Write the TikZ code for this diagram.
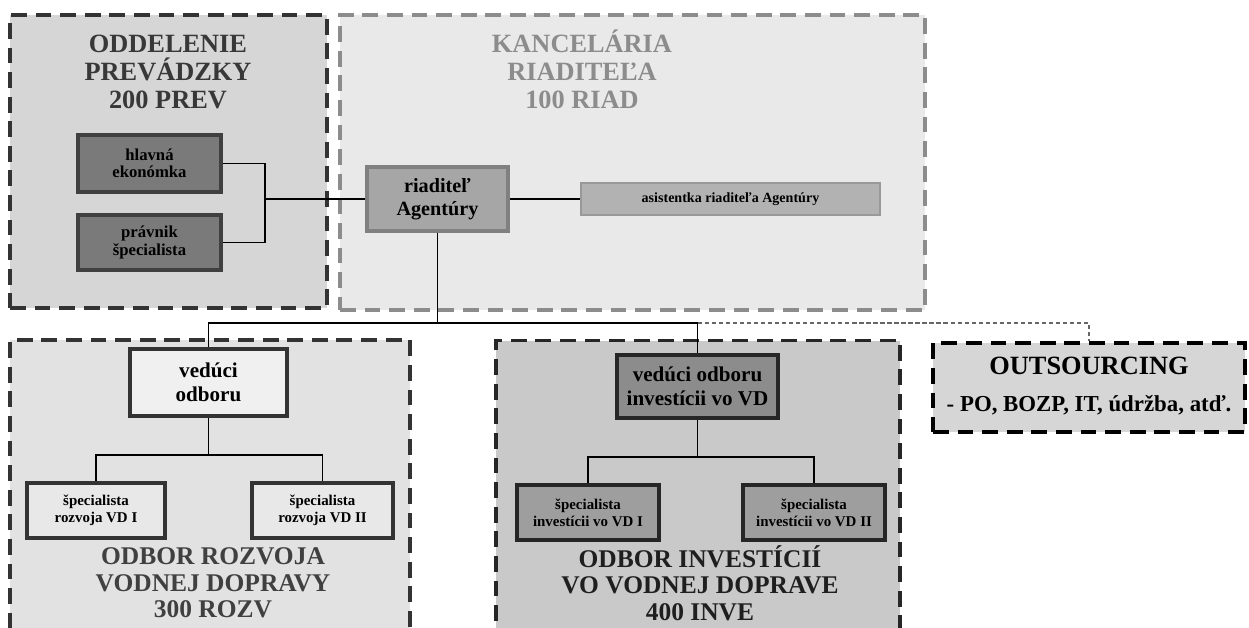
\documentclass[tikz,border=0pt]{standalone}
\usepackage{fontspec}
\setmainfont{Liberation Serif}

\definecolor{deptfill}{HTML}{D6D6D6}
\definecolor{kancfill}{HTML}{E9E9E9}
\definecolor{rozvfill}{HTML}{E2E2E2}
\definecolor{invefill}{HTML}{C9C9C9}

\begin{document}
\begin{tikzpicture}[x=0.02cm, y=-0.02cm, thick,
      dept/.style = {draw, line width=2.2pt, dash pattern=on 9pt off 5pt, inner sep=0pt},
      unit/.style = {draw, line width=2.2pt, align=center, inner sep=1pt,
                     font=\bfseries\fontsize{8.5}{9.6}\selectfont},
      title/.style = {align=center, font=\bfseries\fontsize{15}{16}\selectfont}]
    \useasboundingbox (0,0) rectangle (1249,628);

    % departments
    \node[dept, draw=black!80, fill=deptfill, minimum width=6.34cm, minimum height=5.86cm] (odd) at (168.5,161.5) {};
    \node[dept, draw=black!45, line width=1.8pt, fill=kancfill, minimum width=11.7cm, minimum height=5.9cm] (kanc) at (632.5,162.5) {};
    \node[dept, draw=black!80, fill=rozvfill, minimum width=8cm, minimum height=6.1cm] (rozv) at (210,492.5) {};
    \node[dept, draw=black!85, fill=invefill, minimum width=8.08cm, minimum height=6.1cm] (inve) at (698,493) {};
    \node[dept, draw=black, fill=deptfill, minimum width=6.24cm, minimum height=1.78cm] (outs) at (1089,387.5) {};

    % titles
    \node[title, text=black!78] (tOdd) at (168,72) {ODDELENIE\\PREVÁDZKY\\200 PREV};
    \node[title, text=black!45] (tKanc) at (582,69) {KANCELÁRIA\\RIADITEĽA\\100 RIAD};
    \node[title, text=black!75, font=\bfseries\fontsize{14.5}{15}\selectfont] (tRozv) at (213,583) {ODBOR ROZVOJA\\VODNEJ DOPRAVY\\300 ROZV};
    \node[title, text=black!88, font=\bfseries\fontsize{14.5}{15}\selectfont] (tInve) at (700,583) {ODBOR INVESTÍCIÍ\\VO VODNEJ DOPRAVE\\400 INVE};
    \node[title] (tOuts) at (1089,366) {OUTSOURCING};
    \node[font=\bfseries\fontsize{13}{14}\selectfont] (tOuts2) at (1089,405) {- PO, BOZP, IT, údržba, atď.};

    % units
    \node[unit, draw=black!75, fill=black!52, minimum width=2.86cm, minimum height=1.14cm,
          font=\bfseries\fontsize{9.5}{10}\selectfont] (ekon) at (149.5,163.5) {hlavná\\ekonómka};
    \node[unit, draw=black!75, fill=black!52, minimum width=2.86cm, minimum height=1.1cm,
          font=\bfseries\fontsize{9.5}{10}\selectfont] (prav) at (149.5,242.5) {právnik\\špecialista};
    \node[unit, draw=black!50, line width=2pt, fill=black!35, minimum width=2.82cm, minimum height=1.28cm,
          font=\bfseries\fontsize{11.5}{13}\selectfont] (riad) at (437.5,199) {riaditeľ\\Agentúry};
    \node[unit, draw=black!40, line width=1.2pt, fill=black!30, minimum width=5.98cm, minimum height=0.64cm,
          font=\bfseries\fontsize{8}{9}\selectfont] (asist) at (730.5,199) {asistentka riaditeľa Agentúry};

    \node[unit, draw=black!80, fill=black!6, minimum width=3.14cm, minimum height=1.34cm,
          font=\bfseries\fontsize{12}{14}\selectfont] (ved1) at (208.5,382.5) {vedúci\\odboru};
    \node[unit, draw=black!80, fill=black!9, minimum width=2.76cm, minimum height=1.1cm] (spR1) at (96,510.5) {špecialista\\rozvoja VD I};
    \node[unit, draw=black!80, fill=black!9, minimum width=2.82cm, minimum height=1.1cm] (spR2) at (322.5,510.5) {špecialista\\rozvoja VD II};

    \node[unit, draw=black!85, fill=black!45, minimum width=3.22cm, minimum height=1.26cm,
          font=\bfseries\fontsize{12}{14}\selectfont] (ved2) at (697.5,386.5) {vedúci odboru\\investícii vo VD};
    \node[unit, draw=black!85, fill=black!38, minimum width=2.84cm, minimum height=1.1cm] (spI1) at (588,512.5) {špecialista\\investícii vo VD I};
    \node[unit, draw=black!85, fill=black!38, minimum width=2.84cm, minimum height=1.1cm] (spI2) at (814,512.5) {špecialista\\investícii vo VD II};

    % edges
    \coordinate (brk) at (265,199);
    \coordinate (bus) at (437.5,323);
    \coordinate (hubR) at (208.5,455);
    \coordinate (hubI) at (697.5,457);

    \draw (ekon.east) -| (brk) |- (prav.east);
    \draw (brk) -- (riad.west);
    \draw (riad.east) -- (asist.west);
    \draw (riad.south) -- (bus);
    \draw (ved1.north) |- (bus) -| (ved2.north);
    \draw[black!60, dash pattern=on 2.5pt off 1.5pt] (ved2.north |- bus) -| (outs.north);
    \draw (ved1.south) -- (hubR);
    \draw (spR1.north) |- (hubR) -| (spR2.north);
    \draw (ved2.south) -- (hubI);
    \draw (spI1.north) |- (hubI) -| (spI2.north);
\end{tikzpicture}
\end{document}
